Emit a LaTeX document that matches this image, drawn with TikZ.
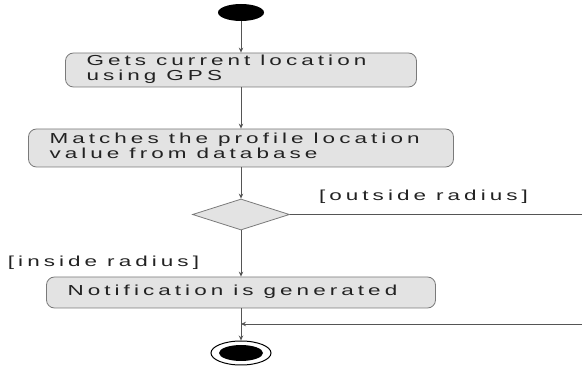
\documentclass[tikz,border=0pt]{standalone}
\usepackage{fontspec}
\setmainfont{Liberation Sans}[FakeStretch=1.55, LetterSpace=28]
\usetikzlibrary{shapes.geometric,arrows.meta}
\definecolor{boxfill}{HTML}{E3E3E3}
\definecolor{boxline}{HTML}{7A7A7A}
\definecolor{flow}{HTML}{555555}
\definecolor{ink}{HTML}{222222}
% wide, letter-spaced label type with fixed word gaps
\newcommand\flowfont{\fontsize{14.5}{15}\selectfont\spaceskip=10pt\relax}
% left-aligned lines set in a box of the given width
\newcommand\actiontext[2]{\makebox[#1][l]{\begin{tabular}{@{}l@{}}#2\end{tabular}}}

\begin{document}
\begin{tikzpicture}[x=1pt, y=-1pt,
  txt/.style={text=ink, font=\flowfont},
  action/.style={txt, draw=boxline, fill=boxfill, rounded corners=8pt,
    line width=0.8pt, inner xsep=21pt, inner ysep=0pt},
  decision/.style={diamond, draw=boxline, fill=boxfill, line width=0.8pt,
    inner sep=0pt, minimum width=97pt, minimum height=31pt},
  flowline/.style={draw=flow, line width=0.8pt},
  flowarrow/.style={flowline, -{Stealth[length=5pt, width=4.5pt]}},
  guard/.style={txt, inner sep=0pt}
]
\useasboundingbox (0,0) rectangle (582,366);

% initial state
\node[ellipse, fill=black, inner sep=0pt, minimum width=46pt,
  minimum height=17pt] (start) at (241,12.5) {};

% actions
\node[action, minimum height=34pt] (gps) at (241,70)
  {\actiontext{309pt}{Gets current location\\using GPS}};
\node[action, minimum height=38pt] (match) at (241,148)
  {\actiontext{383pt}{Matches the profile location\\value from database}};
\node[decision] (dec) at (241,214.5) {};
\node[action, minimum height=31pt] (notify) at (241,292.5)
  {\actiontext{347pt}{Notification is generated}};

% final state
\node[ellipse, draw=black, line width=1pt, inner sep=0pt, minimum width=60pt,
  minimum height=24pt] (final) at (241,353) {};
\node[ellipse, fill=black, inner sep=0pt, minimum width=44pt,
  minimum height=16pt] (finaldot) at (final.center) {};

% guards
\node[guard] (outside) at (423.5,197) {[outside radius]};
\node[guard] (inside) at (103.5,263) {[inside radius]};

% off-page branch and merge point
\coordinate (farout) at (582,214.5);
\coordinate (farback) at (582,324);
\coordinate (merge) at (241,324);

% control flow
\draw[flowarrow] (start) -- (gps.north);
\draw[flowarrow] (gps.south) -- (match.north);
\draw[flowarrow] (match.south) -- (dec.north);
\draw[flowarrow] (dec.south) -- (notify.north);
\draw[flowarrow] (notify.south) -- (final.north);
\draw[flowline] (dec.east) -- (farout);
\draw[flowarrow] (farback) -- (merge);
\end{tikzpicture}
\end{document}
